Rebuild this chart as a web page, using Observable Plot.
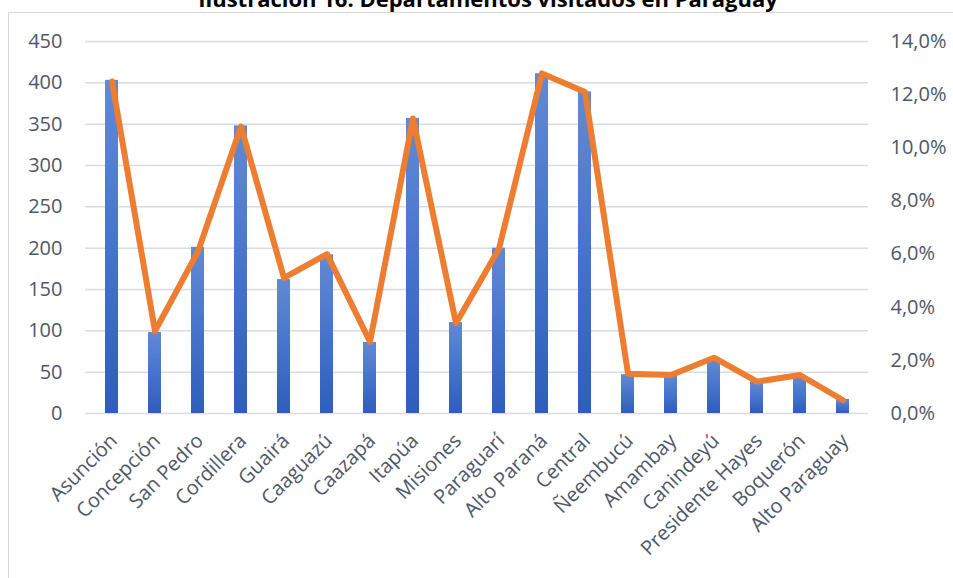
<!DOCTYPE html>
<html>
<head>
<meta charset="utf-8">
<script src="https://cdn.jsdelivr.net/npm/d3@7"></script>
<script src="https://cdn.jsdelivr.net/npm/@observablehq/plot@0.6"></script>
<style>
  html, body { margin: 0; padding: 0; background: #fff; width: 953px; height: 578px; overflow: hidden; }
  #wrap { position: relative; width: 953px; height: 578px; }
  #frame { position: absolute; left: 8px; top: 12px; width: 960px; height: 600px; border: 1px solid #D9D9D9; box-sizing: border-box; }
  #title { position: absolute; left: 0; width: 976px; top: -13.5px; text-align: center; font-family: "Open Sans", sans-serif; font-weight: 700; font-size: 22px; line-height: 22px; color: #000; white-space: nowrap; }
  #chart { position: absolute; left: 0; top: 0; }
</style>
</head>
<body>
<div id="wrap">
  <div id="frame"></div>
  <div id="title">Ilustración 16: Departamentos visitados en Paraguay</div>
  <div id="chart"></div>
</div>
<script>
// Categories
const departamentos = ["Asunción","Concepción","San Pedro","Cordillera","Guairá","Caaguazú","Caazapá","Itapúa","Misiones","Paraguarí","Alto Paraná","Central","Ñeembucú","Amambay","Canindeyú","Presidente Hayes","Boquerón","Alto Paraguay"];
// Bars: number of visits (left axis)
const visitas = [403, 98, 201, 348, 162, 192, 86, 357, 110, 200, 411, 389, 47, 46, 64, 38, 44, 17];
// Line: share in percent (right axis)
const porcentaje = [12.5, 3.1, 6.1, 10.8, 5.1, 6.0, 2.7, 11.1, 3.4, 6.2, 12.8, 12.1, 1.5, 1.45, 2.1, 1.2, 1.45, 0.5];
// Tick labels
const ticksIzq = [0, 50, 100, 150, 200, 250, 300, 350, 400, 450];
const ticksDer = [0, 2, 4, 6, 8, 10, 12, 14];

const yMax = 450, pMax = 14;
const data = departamentos.map((d, i) => ({dep: d, v: visitas[i], p: porcentaje[i]}));

const textColor = "#4E5767";
const chart = Plot.plot({
  width: 953,
  height: 578,
  marginLeft: 85,
  marginRight: 85,
  marginTop: 41,
  marginBottom: 165,
  style: {fontFamily: "Open Sans, sans-serif", fontSize: "20px", background: "transparent", color: textColor, overflow: "visible"},
  x: {domain: departamentos, paddingInner: 0.7, paddingOuter: 0.35, align: 0.5},
  y: {domain: [0, yMax]},
  marks: [
    Plot.gridY(ticksIzq, {stroke: "#D9DCE1", strokeOpacity: 1, strokeWidth: 1.5}),
    Plot.barY(data, {x: "dep", y: "v", fill: "url(#barGrad)"}),
    Plot.line(data, {x: "dep", y: d => d.p * yMax / pMax, stroke: "#ED7D31", strokeWidth: 6, strokeLinejoin: "round", strokeLinecap: "round"}),
    Plot.axisY(ticksIzq, {anchor: "left", tickSize: 0, tickPadding: 23, label: null, fill: textColor}),
    Plot.axisY(ticksDer.map(p => p * yMax / pMax), {anchor: "right", tickSize: 0, tickPadding: 22, label: null, fill: textColor,
      tickFormat: v => (v * pMax / yMax).toFixed(1).replace(".", ",") + "%"}),
    Plot.axisX({tickRotate: -45, tickSize: 0, tickPadding: 24, dx: 2, label: null, fill: textColor})
  ]
});

const defs = d3.select(chart).insert("defs", ":first-child");
const g = defs.append("linearGradient").attr("id", "barGrad").attr("x1", 0).attr("y1", 0).attr("x2", 0).attr("y2", 1);
g.append("stop").attr("offset", "0%").attr("stop-color", "#6389D4");
g.append("stop").attr("offset", "50%").attr("stop-color", "#4674CC");
g.append("stop").attr("offset", "100%").attr("stop-color", "#2E5DBB");

document.getElementById("chart").appendChild(chart);
</script>
</body>
</html>
